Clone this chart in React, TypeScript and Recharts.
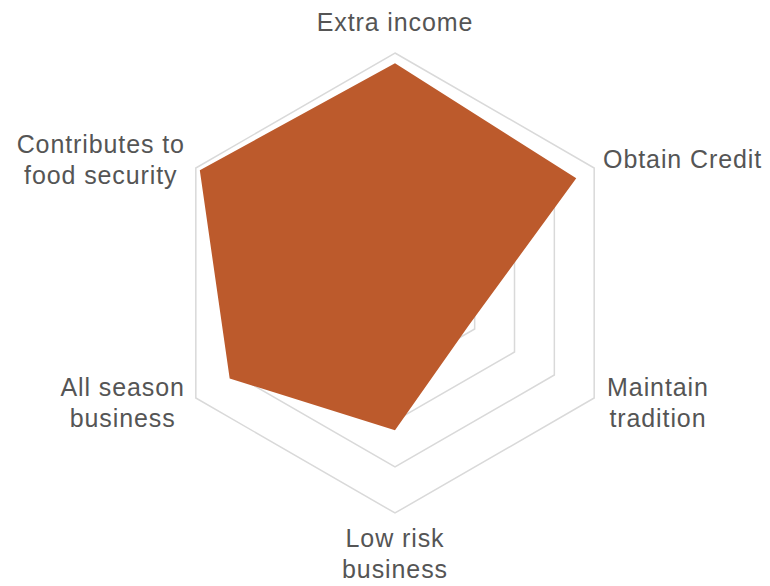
import React from 'react'
import { RadarChart, Radar, PolarGrid, PolarAngleAxis, PolarRadiusAxis } from 'recharts'

// reasons, clockwise from the top
const categories = [
  'Extra income',
  'Obtain Credit',
  'Maintain tradition',
  'Low risk business',
  'All season business',
  'Contributes to food security'
]

// how each label breaks over lines
const labelLines = [
  ['Extra income'],
  ['Obtain Credit'],
  ['Maintain', 'tradition'],
  ['Low risk', 'business'],
  ['All season', 'business'],
  ['Contributes to', 'food security']
]

// share of respondents (%)
const scores = [95.5, 91, 37, 64, 83, 98]

const chartData = categories.map((reason, i) => ({ reason, score: scores[i] }))

const FONT = '"Liberation Sans", Arial, sans-serif'
const FONT_SIZE = 25
const SPACING = 0.9
const LINE_H = 31
const CX = 395
const CY = 283

let ctx: CanvasRenderingContext2D | null = null
function measure(text: string) {
  if (!ctx) {
    ctx = document.createElement('canvas').getContext('2d')
  }
  if (!ctx) return text.length * FONT_SIZE * 0.5
  ctx.font = `${FONT_SIZE}px ${FONT}`
  return ctx.measureText(text).width + SPACING * text.length
}

function LabelTick(props: any) {
  const { x, y, textAnchor, index } = props
  const lines = labelLines[index] || [props.payload?.value]
  const blockW = Math.max(...lines.map(measure))
  const lower = y > CY

  let centerX = x
  if (textAnchor === 'start') {
    centerX = x + (lower ? 6 : 2) + blockW / 2
  } else if (textAnchor === 'end') {
    centerX = x - 4 - blockW / 2
  }

  let firstBase: number
  if (textAnchor === 'middle') {
    firstBase = lower ? y + 26 : y - 14 - (lines.length - 1) * LINE_H
  } else {
    firstBase = y + 4 - ((lines.length - 1) * LINE_H) / 2 + (lower ? 5 : 0)
  }

  return (
    <text
      x={centerX}
      y={firstBase}
      textAnchor="middle"
      fill="#555555"
      fontSize={FONT_SIZE}
      fontFamily={FONT}
      letterSpacing={SPACING}
    >
      {lines.map((line: string, i: number) => (
        <tspan key={i} x={centerX} y={firstBase + i * LINE_H}>
          {line}
        </tspan>
      ))}
    </text>
  )
}

export default function App() {
  return (
    <div style={{ position: 'absolute', left: 0, top: 0, width: 770, height: 586, background: '#fff' }}>
      <RadarChart
        width={770}
        height={586}
        data={chartData}
        cx={CX}
        cy={CY}
        outerRadius={230}
        margin={{ top: 0, right: 0, bottom: 0, left: 0 }}
      >
        <PolarGrid radialLines={false} stroke="#d9d9d9" strokeWidth={1.5} />
        <PolarRadiusAxis domain={[0, 100]} tickCount={6} axisLine={false} tick={false} />
        <PolarAngleAxis dataKey="reason" tick={<LabelTick />} tickLine={false} axisLine={false} tickSize={8} />
        <Radar
          dataKey="score"
          fill="#bc5a2c"
          fillOpacity={1}
          stroke="none"
          isAnimationActive={false}
        />
      </RadarChart>
    </div>
  )
}
